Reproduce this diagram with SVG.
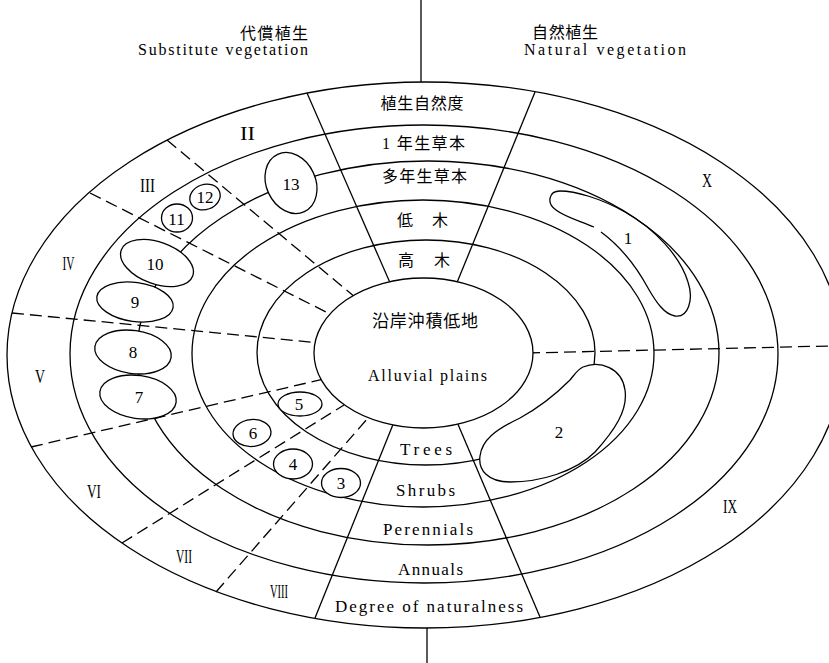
<svg xmlns="http://www.w3.org/2000/svg" width="829" height="663" viewBox="0 0 829 663">
<style>
.ln{fill:none;stroke:#000;stroke-width:1.3}
.ds{fill:none;stroke:#000;stroke-width:1.3;stroke-dasharray:12 6}
.nd{fill:#fff;stroke:#000;stroke-width:1.3}
.en{font-family:"Liberation Serif",serif;font-size:17px;fill:#000}
.jp{font-family:"Liberation Serif","Noto Sans CJK JP",serif;font-size:16px;fill:#000}
.rn{font-family:"Liberation Serif",serif;font-size:19px;fill:#000;text-anchor:middle}
.num{font-family:"Liberation Serif",serif;font-size:17px;fill:#000;text-anchor:middle}
.mid{text-anchor:middle}
</style>
<rect width="829" height="663" fill="#fff"/>
<g id="rings" class="ln">
<ellipse cx="425" cy="355" rx="418" ry="273"/>
<ellipse cx="424" cy="354" rx="354" ry="229"/>
<ellipse cx="428" cy="353" rx="291" ry="192"/>
<ellipse cx="423" cy="353.5" rx="231" ry="153.5"/>
<ellipse cx="426" cy="352.5" rx="169" ry="112.5"/>
</g>
<g id="connectors">
<g class="ln">
<line x1="421" y1="0" x2="421" y2="82"/>
<line x1="427" y1="628" x2="427" y2="663"/>
<line x1="307" y1="93" x2="391" y2="285"/>
<line x1="535" y1="92" x2="456" y2="285"/>
<line x1="394" y1="422" x2="315" y2="618"/>
<line x1="457" y1="422" x2="540" y2="617"/>
</g>
<g class="ds">
<line x1="167" y1="140" x2="356" y2="298"/>
<line x1="90" y1="193" x2="334" y2="316"/>
<line x1="12" y1="313" x2="320" y2="343"/>
<line x1="31" y1="447" x2="324" y2="379"/>
<line x1="122" y1="543" x2="344" y2="405"/>
<line x1="216" y1="592" x2="368" y2="418"/>
<line x1="528" y1="353" x2="829" y2="346"/>
</g>
</g>
<g id="node-center">
<ellipse class="nd" cx="423.5" cy="353" rx="109.5" ry="75"/>
<text class="jp mid" x="425" y="327" style="font-size:17px" textLength="106">沿岸沖積低地</text>
<text class="en mid" x="427.5" y="381" style="font-size:16px" textLength="119">Alluvial plains</text>
</g>
<g id="node-1">
<path class="ln" d="M594,227 C580,221 565,217 556,210 C546,203 549,191 560,191 C575,191 600,198 625,212 C655,229 680,256 688,282 C694,300 688,318 675,316 C664,314 656,302 648,288 C636,266 620,246 601,232"/>
<text class="num" x="628" y="244">1</text>
</g>
<g id="node-2">
<path class="nd" d="M583,367 C600,360 622,368 625,390 C628,410 615,430 595,452 C575,472 540,482 510,482 C488,482 478,470 480,456 C482,440 495,430 520,418 C540,407 558,392 570,380 C575,374 578,369 583,367 Z"/>
<text class="num" x="559" y="438">2</text>
</g>
<g id="node-3"><ellipse class="nd" cx="341" cy="483" rx="19.5" ry="14.5"/><text class="num" x="341" y="488.5">3</text></g>
<g id="node-4"><ellipse class="nd" cx="293" cy="464" rx="19.5" ry="15"/><text class="num" x="293" y="470">4</text></g>
<g id="node-5"><ellipse class="nd" cx="300" cy="404" rx="22" ry="12"/><text class="num" x="299" y="410">5</text></g>
<g id="node-6"><ellipse class="nd" cx="252" cy="433" rx="19" ry="13.5" transform="rotate(-5 252 433)"/><text class="num" x="253" y="439">6</text></g>
<g id="node-7"><ellipse class="nd" cx="138" cy="397" rx="38.5" ry="21.5" transform="rotate(8 138 397)"/><text class="num" x="139" y="403">7</text></g>
<g id="node-8"><ellipse class="nd" cx="133" cy="352" rx="38.5" ry="21.5" transform="rotate(8 133 352)"/><text class="num" x="133" y="358">8</text></g>
<g id="node-9"><ellipse class="nd" cx="135" cy="302" rx="38.5" ry="19.5" transform="rotate(8 135 302)"/><text class="num" x="135" y="308">9</text></g>
<g id="node-10"><ellipse class="nd" cx="157" cy="263" rx="38" ry="21" transform="rotate(20 157 263)"/><text class="num" x="155" y="270">10</text></g>
<g id="node-11"><ellipse class="nd" cx="177" cy="218" rx="15.5" ry="14"/><text class="num" x="176.5" y="224.5">11</text></g>
<g id="node-12"><ellipse class="nd" cx="205" cy="197" rx="15.5" ry="12.5" transform="rotate(-20 205 197)"/><text class="num" x="205" y="203">12</text></g>
<g id="node-13"><ellipse class="nd" cx="291" cy="183" rx="24.6" ry="31.6" transform="rotate(-25 291 183)"/><text class="num" x="291" y="189.5">13</text></g>
<g id="labels">
<text class="jp" x="240" y="39" textLength="68">代償植生</text>
<text class="en" x="138" y="55" style="font-size:16px" textLength="170">Substitute vegetation</text>
<text class="jp" x="532" y="38" textLength="66">自然植生</text>
<text class="en" x="524" y="55" style="font-size:16px" textLength="162">Natural vegetation</text>
<text class="jp mid" x="422" y="109" textLength="83">植生自然度</text>
<text class="jp mid" x="423.5" y="149" textLength="83">1 年生草本</text>
<text class="jp mid" x="424.5" y="182" textLength="85">多年生草本</text>
<text class="jp mid" x="422.5" y="226" textLength="51">低　木</text>
<text class="jp mid" x="424" y="266" textLength="52">高　木</text>
<text class="en mid" x="426" y="455" textLength="52">Trees</text>
<text class="en mid" x="425.5" y="496" textLength="59">Shrubs</text>
<text class="en mid" x="428" y="535" textLength="90">Perennials</text>
<text class="en mid" x="430.5" y="575" textLength="65">Annuals</text>
<text class="en mid" x="429" y="612" textLength="188">Degree of naturalness</text>
<text class="rn" x="247.5" y="140" textLength="15" lengthAdjust="spacingAndGlyphs">II</text>
<text class="rn" x="147.5" y="192" textLength="15" lengthAdjust="spacingAndGlyphs">III</text>
<text class="rn" x="68.5" y="270" textLength="12" lengthAdjust="spacingAndGlyphs">IV</text>
<text class="rn" x="40" y="383" textLength="10" lengthAdjust="spacingAndGlyphs">V</text>
<text class="rn" x="94" y="498" textLength="14" lengthAdjust="spacingAndGlyphs">VI</text>
<text class="rn" x="184" y="563" textLength="16" lengthAdjust="spacingAndGlyphs">VII</text>
<text class="rn" x="279" y="598" textLength="18" lengthAdjust="spacingAndGlyphs">VIII</text>
<text class="rn" x="730" y="513" textLength="14" lengthAdjust="spacingAndGlyphs">IX</text>
<text class="rn" x="707" y="187" textLength="10" lengthAdjust="spacingAndGlyphs">X</text>
</g>
</svg>
